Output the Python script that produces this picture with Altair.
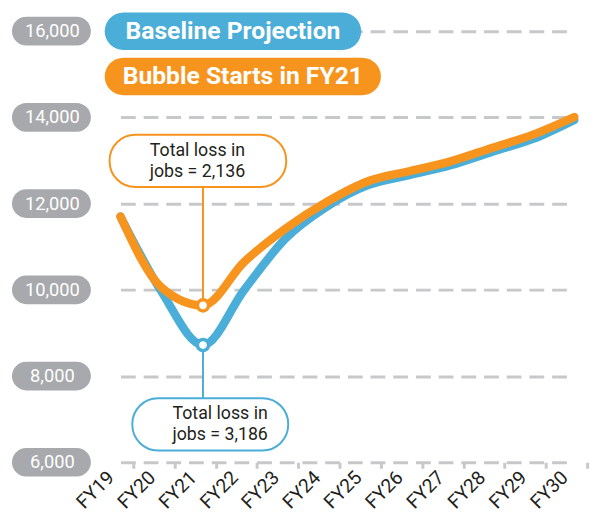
import altair as alt
import pandas as pd

# ---- data ----
years = ["FY19", "FY20", "FY21", "FY22", "FY23", "FY24",
         "FY25", "FY26", "FY27", "FY28", "FY29", "FY30"]
baseline = [11700, 9950, 8720, 10000, 11190, 11930, 12430, 12660, 12890, 13200, 13500, 13940]
bubble = [11700, 10050, 9640, 10650, 11420, 12040, 12520, 12750, 12980, 13290, 13600, 14010]
series_names = ["Baseline Projection", "Bubble Starts in FY21"]
y_ticks = [6000, 8000, 10000, 12000, 14000, 16000]
loss_year = "FY21"
loss_baseline = ["Total loss in", "jobs = 3,186"]
loss_bubble = ["Total loss in", "jobs = 2,136"]

# ---- styles ----
BLUE = "#4BAED8"
ORANGE = "#F7941D"
GRID = "#C7C8CA"
PILL = "#A7A9AC"
INK = "#231F20"
FONT = "Roboto"

df_b = pd.DataFrame({"year": years, "value": baseline})
df_o = pd.DataFrame({"year": years, "value": bubble})
idx = years.index(loss_year)
ann_b = pd.DataFrame({"year": [loss_year], "value": [baseline[idx]]})
ann_o = pd.DataFrame({"year": [loss_year], "value": [bubble[idx]]})
tick_df = pd.DataFrame({"value": y_ticks})

x_scale = alt.Scale(type="point", domain=years, range=[29, 489], padding=0)
y_scale = alt.Scale(domain=[6000, 16000], nice=False, zero=False)

x_axis = alt.Axis(title=None, labelAngle=-45, labelAlign="right", labelBaseline="middle",
                  labelFont=FONT, labelFontSize=19.5, labelColor=INK, labelPadding=6,
                  labelOffset=-23, tickOffset=13, tickSize=6, tickWidth=3, tickColor=GRID,
                  domain=False, grid=False)
y_axis = alt.Axis(title=None, values=y_ticks, labels=False, ticks=False, domain=False,
                  grid=True, gridDash=[15, 8], gridWidth=3, gridColor=GRID)

x_enc = alt.X("year:N", scale=x_scale, axis=x_axis)
y_enc = alt.Y("value:Q", scale=y_scale, axis=y_axis)

line_b = alt.Chart(df_b).mark_line(color=BLUE, strokeWidth=8.5, strokeCap="round",
                                   strokeJoin="round", interpolate="monotone").encode(x=x_enc, y=y_enc)
line_o = alt.Chart(df_o).mark_line(color=ORANGE, strokeWidth=8.5, strokeCap="round",
                                   strokeJoin="round", interpolate="monotone").encode(x=x_enc, y=y_enc)

# y-axis pills
pills = alt.Chart(tick_df).mark_rect(color=PILL, cornerRadius=14.5, yOffset=-14.5,
                                     y2Offset=14.5).encode(
    y=y_enc, y2="value:Q", x=alt.value(-81), x2=alt.value(-1))
pill_text = alt.Chart(tick_df).mark_text(color="white", font=FONT, fontSize=18.5,
                                         align="center", baseline="middle").encode(
    y=y_enc, x=alt.value(-40), text=alt.Text("value:Q", format=",d"))

# connectors
rule_o = alt.Chart(ann_o).mark_rule(color=ORANGE, strokeWidth=2).encode(
    x=x_enc, y=y_enc, y2=alt.value(158))
rule_b = alt.Chart(ann_b).mark_rule(color=BLUE, strokeWidth=2).encode(
    x=x_enc, y=y_enc, y2=alt.value(372))

# circles
circ_o = alt.Chart(ann_o).mark_point(shape="circle", fill="white", fillOpacity=1, opacity=1,
                                     stroke=ORANGE, strokeWidth=3.5, size=130).encode(x=x_enc, y=y_enc)
circ_b = alt.Chart(ann_b).mark_point(shape="circle", fill="white", fillOpacity=1, opacity=1,
                                     stroke=BLUE, strokeWidth=3.5, size=130).encode(x=x_enc, y=y_enc)

# annotation boxes
one = pd.DataFrame({"k": [0]})
box_o = alt.Chart(one).mark_rect(fill="white", stroke=ORANGE, strokeWidth=2, cornerRadius=26).encode(
    x=alt.value(18), x2=alt.value(197), y=alt.value(105), y2=alt.value(158))
txt_o = alt.Chart(one).mark_text(text=loss_bubble, font=FONT, fontSize=18, color=INK,
                                 align="center", baseline="middle", lineHeight=21).encode(
    x=alt.value(107), y=alt.value(122))
box_b = alt.Chart(one).mark_rect(fill="white", stroke=BLUE, strokeWidth=2, cornerRadius=26).encode(
    x=alt.value(41), x2=alt.value(199), y=alt.value(372), y2=alt.value(425))
txt_b = alt.Chart(one).mark_text(text=loss_baseline, font=FONT, fontSize=18, color=INK,
                                 align="center", baseline="middle", lineHeight=21).encode(
    x=alt.value(130), y=alt.value(388))

# legend pills
leg_b_rect = alt.Chart(one).mark_rect(color=BLUE, cornerRadius=19).encode(
    x=alt.value(13), x2=alt.value(273), y=alt.value(-19), y2=alt.value(19))
leg_b_text = alt.Chart(one).mark_text(text=series_names[0], font=FONT, fontSize=25,
                                      fontWeight="bold", color="white",
                                      align="center", baseline="middle").encode(
    x=alt.value(143), y=alt.value(0))
leg_o_rect = alt.Chart(one).mark_rect(color=ORANGE, cornerRadius=19).encode(
    x=alt.value(13), x2=alt.value(293), y=alt.value(27), y2=alt.value(65))
leg_o_text = alt.Chart(one).mark_text(text=series_names[1], font=FONT, fontSize=25,
                                      fontWeight="bold", color="white",
                                      align="center", baseline="middle").encode(
    x=alt.value(153), y=alt.value(46))

chart = alt.layer(
    line_b, line_o, pills, pill_text, rule_o, rule_b, circ_o, circ_b,
    box_o, txt_o, box_b, txt_b, leg_b_rect, leg_b_text, leg_o_rect, leg_o_text
).properties(
    width=512, height=437,
    padding={"left": 85, "top": 20, "right": 0, "bottom": 55},
    autosize=alt.AutoSizeParams(type="none"),
    background="white",
).configure_view(stroke=None)

chart.save("out.html", embed_options={"renderer": "svg", "actions": False})
